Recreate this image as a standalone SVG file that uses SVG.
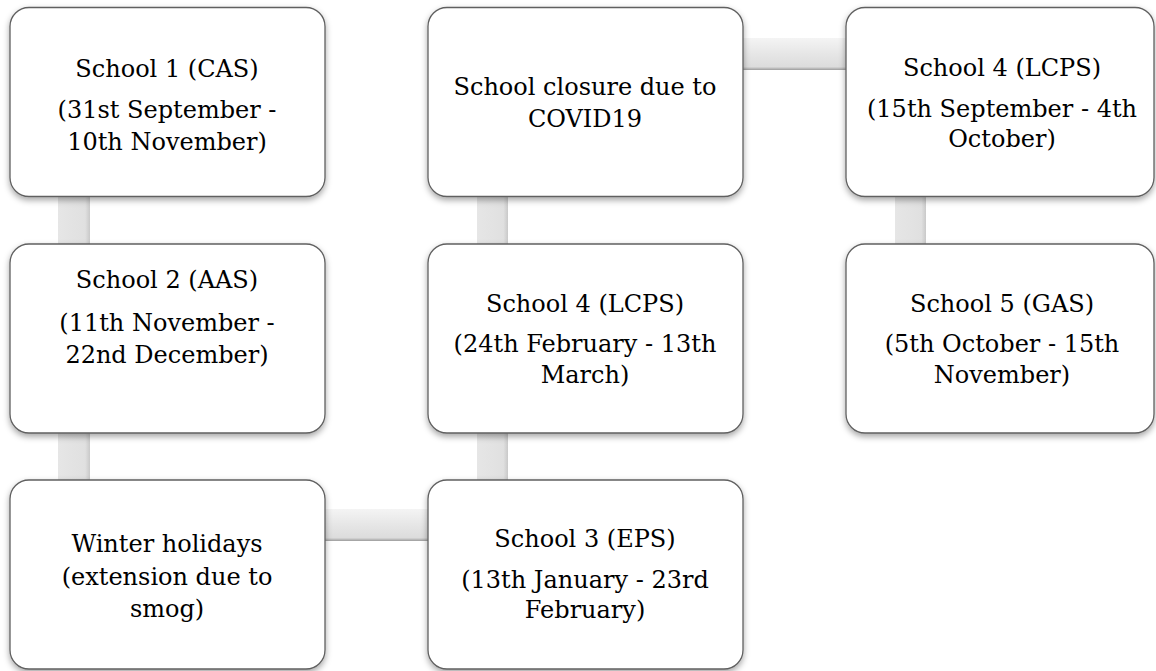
<svg xmlns="http://www.w3.org/2000/svg" width="1156" height="671" viewBox="0 0 1156 671">
  <defs>
    <linearGradient id="gv" x1="0" y1="0" x2="1" y2="0">
      <stop offset="0" stop-color="#e6e6e6"/>
      <stop offset="0.85" stop-color="#e0e0e0"/>
      <stop offset="1" stop-color="#c9c9c9"/>
    </linearGradient>
    <linearGradient id="gh" x1="0" y1="0" x2="0" y2="1">
      <stop offset="0" stop-color="#f4f4f4"/>
      <stop offset="0.5" stop-color="#e6e6e6"/>
      <stop offset="0.9" stop-color="#dcdcdc"/>
      <stop offset="1" stop-color="#9c9c9c"/>
    </linearGradient>
    <filter id="sh" x="-10%" y="-10%" width="120%" height="130%">
      <feDropShadow dx="0" dy="3" stdDeviation="3" flood-color="#000" flood-opacity="0.35"/>
    </filter>
  </defs>
  <style>
    .box { fill: #ffffff; stroke: #606060; stroke-width: 1.3; filter: url(#sh); }
    .t { font-family: "DejaVu Serif", "Liberation Serif", serif; font-size: 24px; fill: #000; text-anchor: middle; }
  </style>
  <rect width="1156" height="671" fill="#ffffff"/>
  <g id="connectors">
    <rect x="58" y="190" width="32" height="300" fill="url(#gv)"/>
    <rect x="477" y="190" width="31" height="300" fill="url(#gv)"/>
    <rect x="895" y="190" width="31" height="60" fill="url(#gv)"/>
    <rect x="320" y="509" width="113" height="32" fill="url(#gh)"/>
    <rect x="738" y="38" width="113" height="32" fill="url(#gh)"/>
  </g>
  <g id="school1">
    <rect class="box" x="10" y="7.5" width="315" height="189" rx="19"/>
    <text class="t" x="167" y="77">School 1 (CAS)</text>
    <text class="t" x="167" y="118">(31st September -</text>
    <text class="t" x="167" y="150">10th November)</text>
  </g>
  <g id="school2">
    <rect class="box" x="10" y="244" width="315" height="189" rx="19"/>
    <text class="t" x="167" y="288">School 2 (AAS)</text>
    <text class="t" x="167" y="331">(11th November -</text>
    <text class="t" x="167" y="363">22nd December)</text>
  </g>
  <g id="winter">
    <rect class="box" x="10" y="480" width="315" height="189" rx="19"/>
    <text class="t" x="167" y="552">Winter holidays</text>
    <text class="t" x="167" y="585">(extension due to</text>
    <text class="t" x="167" y="617">smog)</text>
  </g>
  <g id="school3">
    <rect class="box" x="428" y="480" width="315" height="189" rx="19"/>
    <text class="t" x="585" y="547">School 3 (EPS)</text>
    <text class="t" x="585" y="588">(13th January - 23rd</text>
    <text class="t" x="585" y="618">February)</text>
  </g>
  <g id="school4a">
    <rect class="box" x="428" y="244" width="315" height="189" rx="19"/>
    <text class="t" x="585" y="312">School 4 (LCPS)</text>
    <text class="t" x="585" y="352">(24th February - 13th</text>
    <text class="t" x="585" y="383">March)</text>
  </g>
  <g id="closure">
    <rect class="box" x="428" y="7.5" width="315" height="189" rx="19"/>
    <text class="t" x="585" y="95">School closure due to</text>
    <text class="t" x="585" y="127">COVID19</text>
  </g>
  <g id="school4b">
    <rect class="box" x="846" y="7.5" width="308" height="189" rx="19"/>
    <text class="t" x="1002" y="76">School 4 (LCPS)</text>
    <text class="t" x="1002" y="117">(15th September - 4th</text>
    <text class="t" x="1002" y="147">October)</text>
  </g>
  <g id="school5">
    <rect class="box" x="846" y="244" width="308" height="189" rx="19"/>
    <text class="t" x="1002" y="312">School 5 (GAS)</text>
    <text class="t" x="1002" y="352">(5th October - 15th</text>
    <text class="t" x="1002" y="383">November)</text>
  </g>
</svg>
